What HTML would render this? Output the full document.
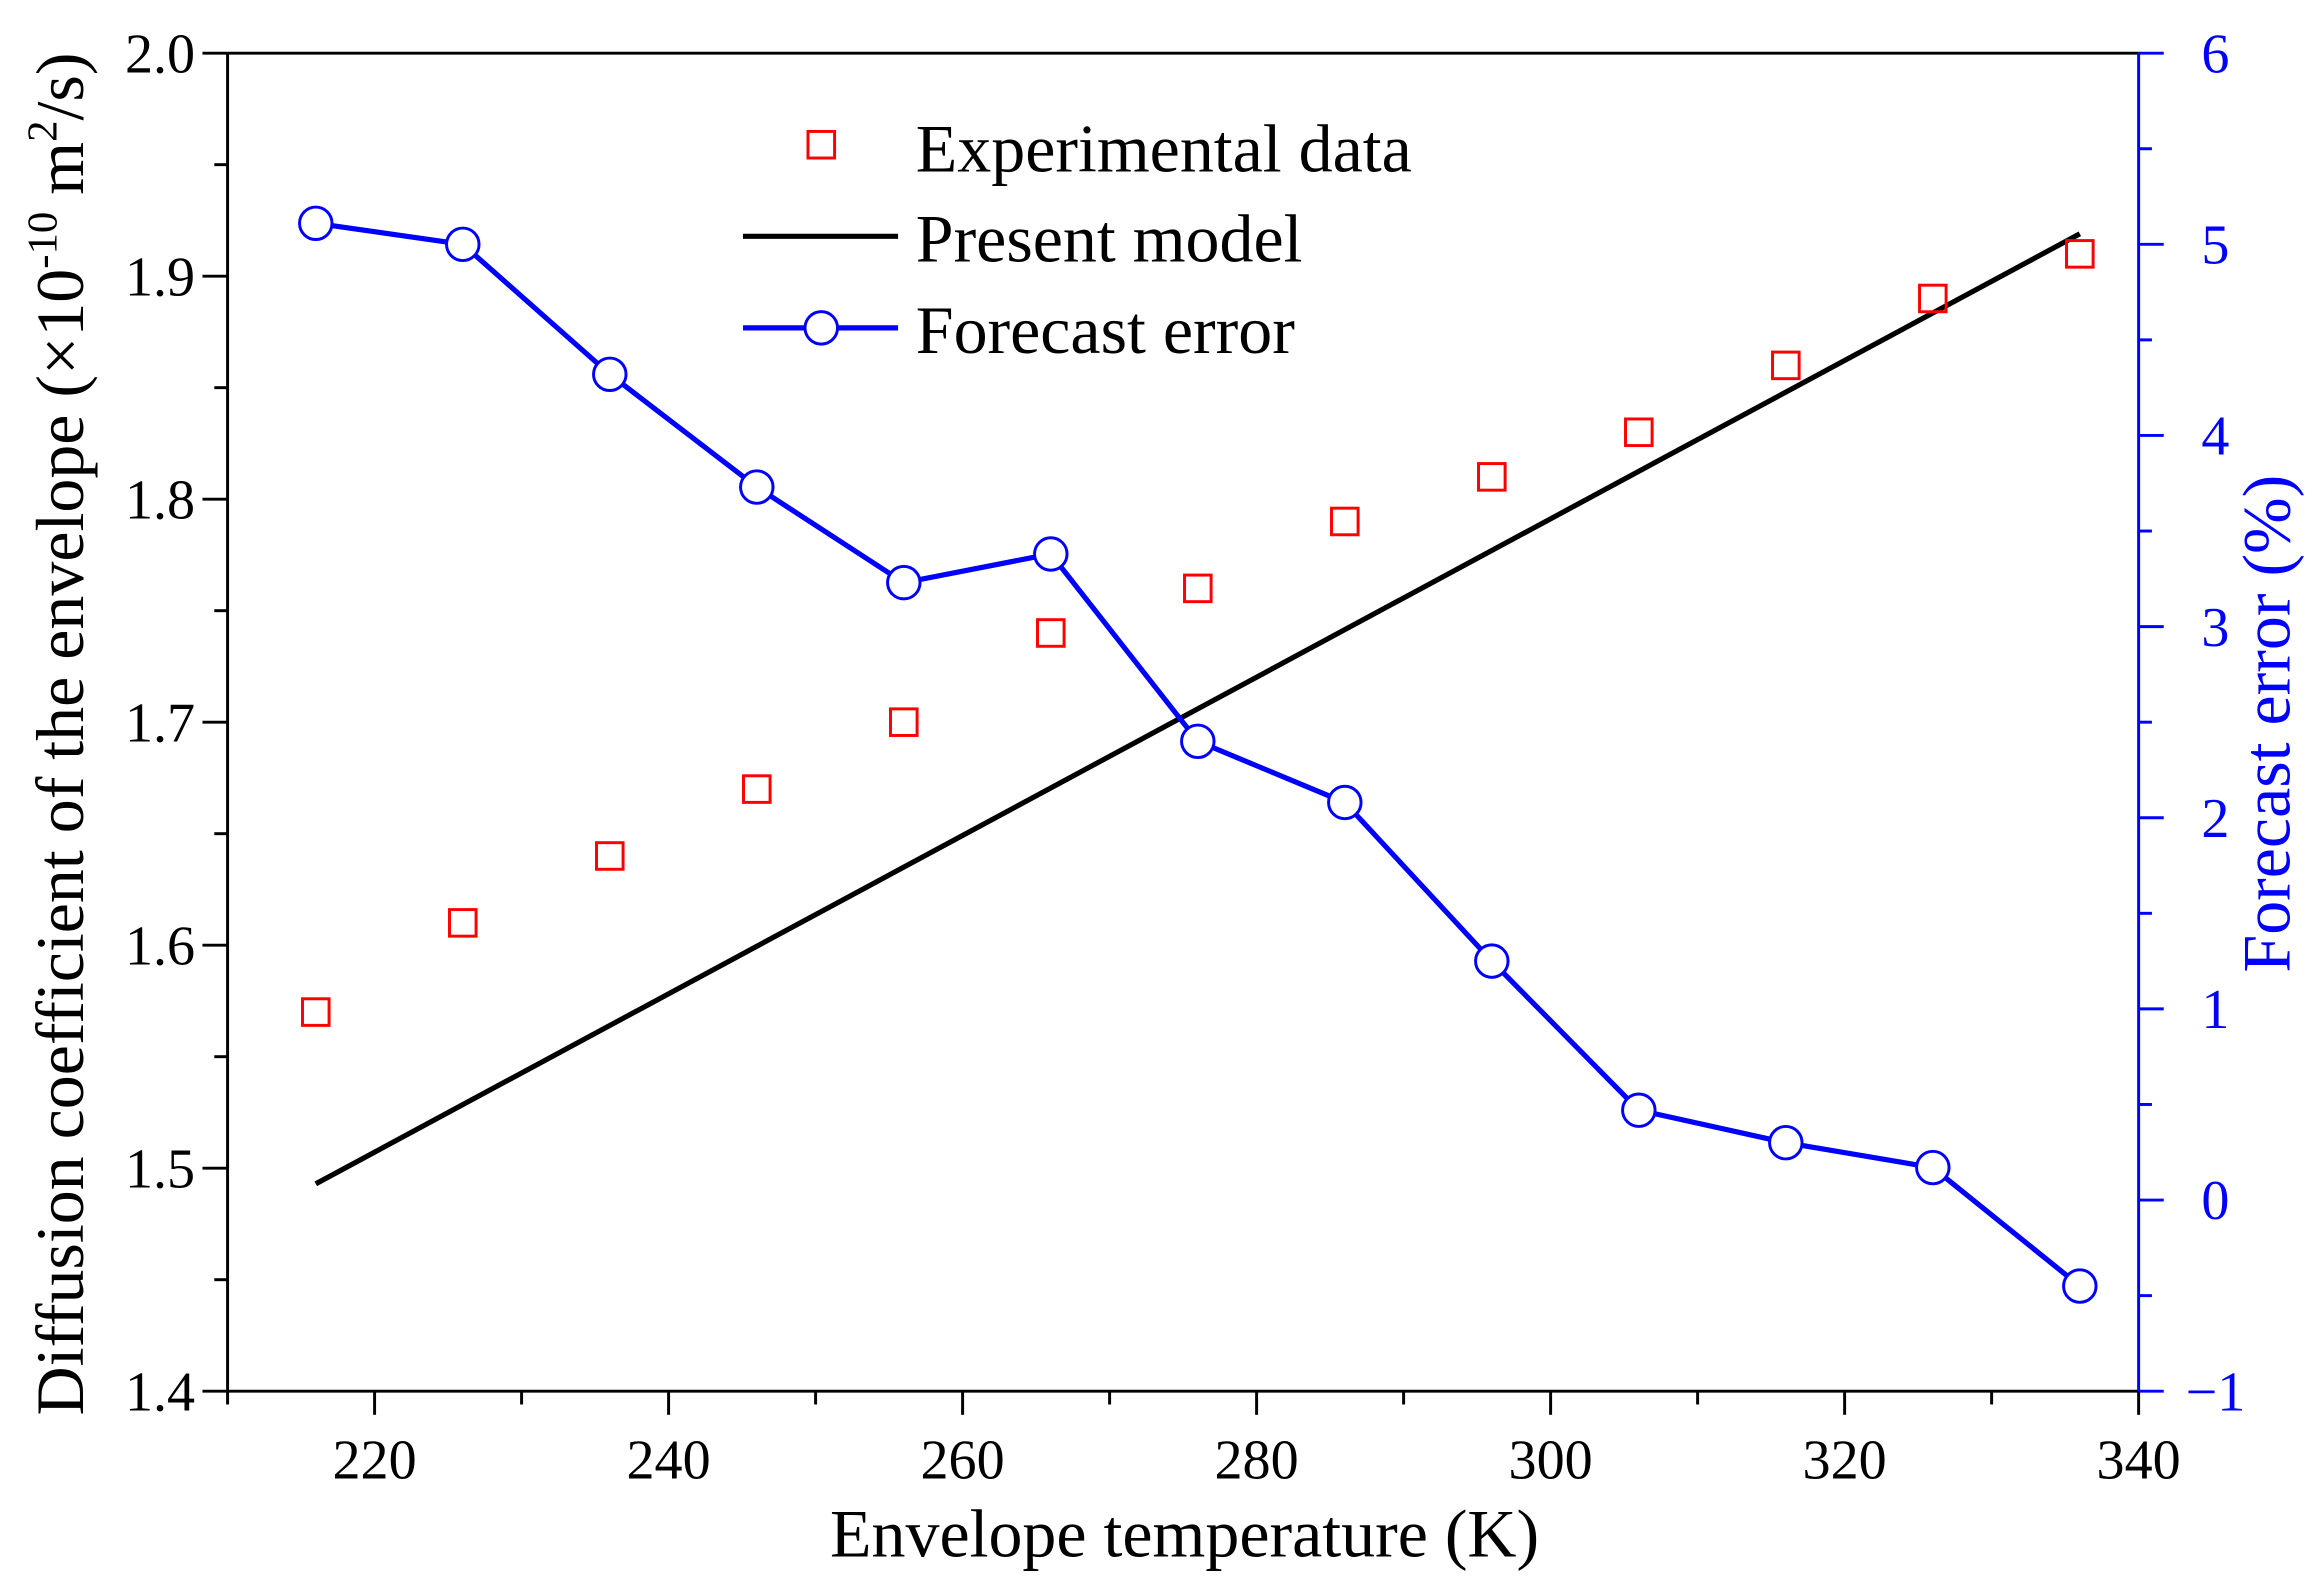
<!DOCTYPE html>
<html><head><meta charset="utf-8"><style>html,body{margin:0;padding:0;background:#fff}svg{display:block}text{font-family:"Liberation Serif",serif}</style></head>
<body>
<svg id="chart" width="2316" height="1595" viewBox="0 0 1568 1080" xmlns="http://www.w3.org/2000/svg"></svg>
<script>
const temps=[216,226,236,246,256,266,276,286,296,306,316,326,336];
const expData=[1.57,1.61,1.64,1.67,1.70,1.74,1.76,1.79,1.81,1.83,1.86,1.89,1.91];
const modelX=[216,336];
const modelY=[1.493,1.919];
const errData=[5.11,5.0,4.32,3.73,3.23,3.38,2.40,2.08,1.25,0.47,0.30,0.17,-0.45];
const xTicks=[220,240,260,280,300,320,340];
const yTicks=[1.4,1.5,1.6,1.7,1.8,1.9,2.0];
const y2Ticks=[-1,0,1,2,3,4,5,6];

const L=154,R=1448,T=36,B=942;
const sx=v=>L+(v-210)/130*(R-L);
const sy=v=>B-(v-1.4)/0.6*(B-T);
const sy2=v=>B-(v+1)/7*(B-T);
const svg=document.getElementById('chart');
const NS='http://www.w3.org/2000/svg';
function mk(tag,attrs,name,txt){const e=document.createElementNS(NS,tag);for(const k in attrs)e.setAttribute(k,attrs[k]);


if(txt!==undefined)e.textContent=txt;svg.appendChild(e);return e;}

mk('line',{x1:L,y1:T,x2:R,y2:T,stroke:'#000','stroke-width':2},'top-axis');
mk('line',{x1:L,y1:B,x2:R,y2:B,stroke:'#000','stroke-width':2},'x-axis');
mk('line',{x1:L,y1:T,x2:L,y2:B,stroke:'#000','stroke-width':2},'y-axis-left');
mk('line',{x1:R,y1:T,x2:R,y2:B,stroke:'#0000ff','stroke-width':2},'y-axis-right');

for(let v=210;v<=340;v+=10){const maj=v%20===0;mk('line',{x1:sx(v),y1:B,x2:sx(v),y2:B+(maj?16:9),stroke:'#000','stroke-width':2},'x-tick');}
xTicks.forEach(v=>mk('text',{x:sx(v),y:B+59,'font-size':38,'text-anchor':'middle'},'x-tick-label',v));
for(let i=0;i<=12;i++){const v=1.4+i*0.05;const maj=i%2===0;mk('line',{x1:L,y1:sy(v),x2:L-(maj?17:9),y2:sy(v),stroke:'#000','stroke-width':2},'y-tick');}
yTicks.forEach(v=>mk('text',{x:L-22,y:sy(v)+13,'font-size':38,'text-anchor':'end'},'y-tick-label',v.toFixed(1)));
for(let i=0;i<=14;i++){const v=-1+i*0.5;const maj=i%2===0;mk('line',{x1:R,y1:sy2(v),x2:R+(maj?17:9),y2:sy2(v),stroke:'#0000ff','stroke-width':2},'y2-tick');}
y2Ticks.forEach(v=>mk('text',{x:R+52,y:sy2(v)+13,'font-size':38,'text-anchor':'middle',fill:'#0000ff'},'y2-tick-label',v<0?'\u2212'+Math.abs(v):v));

mk('text',{x:802,y:1054,'font-size':46,'text-anchor':'middle'},'x-axis-title','Envelope temperature (K)');
const yt=mk('text',{x:0,y:0,'font-size':46,'text-anchor':'middle',transform:'translate(56,497) rotate(-90)'},'y-axis-title');
yt.innerHTML='Diffusion coefficient of the envelope (×10<tspan dy="-18" font-size="29">-10</tspan><tspan dy="18"> m</tspan><tspan dy="-18" font-size="29">2</tspan><tspan dy="18">/s)</tspan>';
mk('text',{x:0,y:0,'font-size':46,'text-anchor':'middle',fill:'#0000ff',transform:'translate(1550,490) rotate(-90)'},'y2-axis-title','Forecast error (%)');

mk('line',{x1:sx(modelX[0]),y1:sy(modelY[0]),x2:sx(modelX[1]),y2:sy(modelY[1]),stroke:'#000','stroke-width':3.5},'present-model-line');
temps.forEach((t,i)=>mk('rect',{x:sx(t)-9,y:sy(expData[i])-9,width:18,height:18,fill:'none',stroke:'#ff0000','stroke-width':2},'experimental-point'));
mk('polyline',{points:temps.map((t,i)=>sx(t)+','+sy2(errData[i])).join(' '),fill:'none',stroke:'#0000ff','stroke-width':3.5},'forecast-error-line');
temps.forEach((t,i)=>mk('ellipse',{cx:sx(t),cy:sy2(errData[i]),rx:11,ry:11,fill:'#fff',stroke:'#0000ff','stroke-width':2},'forecast-error-point'));

mk('rect',{x:547,y:89,width:18,height:18,fill:'none',stroke:'#ff0000','stroke-width':2},'legend-experimental-marker');
mk('text',{x:620,y:116,'font-size':46},'legend-experimental-label','Experimental data');
mk('line',{x1:503,y1:160,x2:608,y2:160,stroke:'#000','stroke-width':3.5},'legend-model-line');
mk('text',{x:620,y:177,'font-size':46},'legend-model-label','Present model');
mk('line',{x1:503,y1:222,x2:608,y2:222,stroke:'#0000ff','stroke-width':3.5},'legend-error-line');
mk('ellipse',{cx:556,cy:222,rx:11,ry:11,fill:'#fff',stroke:'#0000ff','stroke-width':2},'legend-error-marker');
mk('text',{x:620,y:239,'font-size':46},'legend-error-label','Forecast error');
</script>
</body></html>
